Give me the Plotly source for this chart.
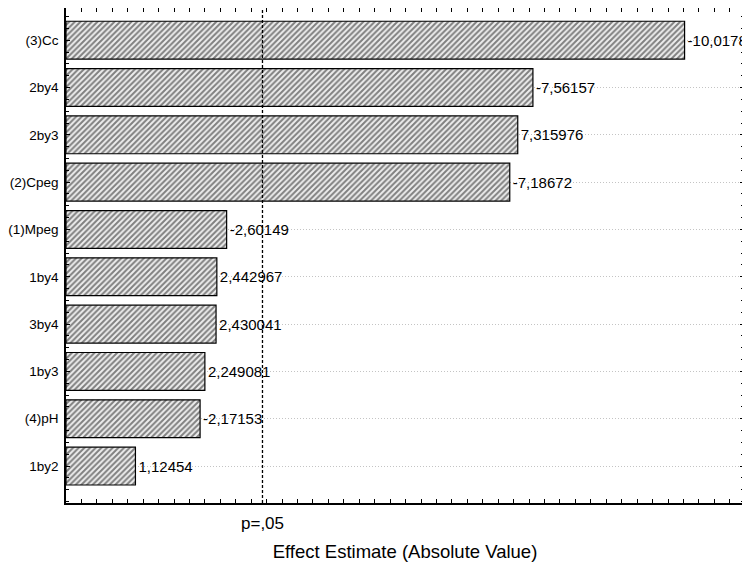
import plotly.graph_objects as go

# 効果名と推定値（符号付き）
factors = ["(3)Cc", "2by4", "2by3", "(2)Cpeg", "(1)Mpeg",
           "1by4", "3by4", "1by3", "(4)pH", "1by2"]
effects = [-10.0178, -7.56157, 7.315976, -7.18672, -2.60149,
           2.442967, 2.430041, 2.249081, -2.17153, 1.12454]
effect_labels = ["-10,0178", "-7,56157", "7,315976", "-7,18672", "-2,60149",
                 "2,442967", "2,430041", "2,249081", "-2,17153", "1,12454"]
p_crit = 3.182  # p=,05
p_label = "p=,05"

FONT = "Arial, Liberation Sans, sans-serif"

pos = list(range(len(factors)))
abs_eff = [abs(v) for v in effects]

fig = go.Figure()
fig.add_trace(go.Bar(
    x=abs_eff,
    y=pos,
    orientation="h",
    width=0.8,
    text=effect_labels,
    textposition="outside",
    constraintext="none",
    cliponaxis=True,
    textfont=dict(family=FONT, size=15, color="black"),
    marker=dict(
        color="#999999",
        line=dict(color="black", width=1.2),
        pattern=dict(shape="/", fgcolor="#111111", bgcolor="#eeeeee",
                     size=4, solidity=0.5),
    ),
    showlegend=False,
))

# 有意水準 p=.05 の基準線
fig.add_vline(x=p_crit, line_width=1.3, line_dash="3px,2px", line_color="black")
fig.add_annotation(x=p_crit, y=0, xref="x", yref="paper", yshift=-9,
                   text=p_label, showarrow=False, yanchor="top",
                   font=dict(family=FONT, size=17, color="black"))

# ページ本体の余白(8px)を考慮したマージン
fig.update_layout(
    width=750, height=564,
    margin=dict(l=58, r=14, t=0, b=69),
    plot_bgcolor="white",
    paper_bgcolor="white",
    font=dict(family=FONT, size=15, color="black"),
    xaxis=dict(
        range=[0, 10.98],
        showticklabels=False,
        showgrid=False,
        zeroline=False,
        automargin=False,
        ticks="inside", ticklen=4, tickcolor="black", dtick=0.25,
        showline=True, linecolor="black", linewidth=1.5, mirror="allticks",
        title=dict(text="Effect Estimate (Absolute Value)",
                   font=dict(family=FONT, size=18.5), standoff=41),
    ),
    yaxis=dict(
        range=[9.78, -0.68],
        tickvals=pos, ticktext=factors,
        ticks="inside", ticklen=4, tickcolor="black",
        ticklabelstandoff=3,
        minor=dict(dtick=0.25, ticks="inside", ticklen=3, tickcolor="black", showgrid=False),
        showgrid=True, gridcolor="#c4c4c4", griddash="1px,2px", gridwidth=1,
        zeroline=False,
        automargin=False,
        showline=True, linecolor="black", linewidth=1.5, mirror="allticks",
        tickfont=dict(family=FONT, size=13.5),
    ),
)

fig.write_html("out.html")
